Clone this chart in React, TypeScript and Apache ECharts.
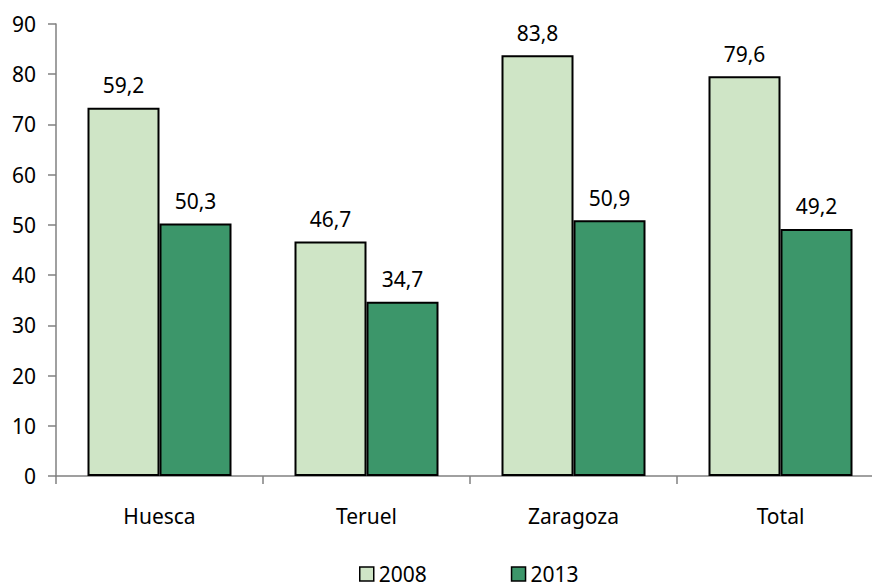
import React, { useEffect, useRef } from "react";
import * as echarts from "echarts";

const categories = ["Huesca", "Teruel", "Zaragoza", "Total"];
const seriesNames = ["2008", "2013"];
const values2008 = [73.3, 46.7, 83.8, 79.6];
const values2013 = [50.3, 34.7, 50.9, 49.2];
const labels2008 = ["59,2", "46,7", "83,8", "79,6"];
const labels2013 = ["50,3", "34,7", "50,9", "49,2"];
const yTicks = [0, 10, 20, 30, 40, 50, 60, 70, 80, 90];

const FONT = "Noto Sans";

export default function App() {
  const ref = useRef<HTMLDivElement>(null);
  useEffect(() => {
    if (!ref.current) return;
    const chart = echarts.init(ref.current, null, { renderer: "svg" });
    const labelCfg = (texts: string[]) => ({
      show: true,
      position: "top",
      distance: 12,
      color: "#000",
      fontSize: 21,
      fontFamily: FONT,
      formatter: (p: any) => texts[p.dataIndex],
    });
    chart.setOption({
      animation: false,
      backgroundColor: "#fff",
      grid: { left: 56, top: 24, width: 828, height: 452, containLabel: false },
      legend: {
        data: seriesNames,
        left: 359,
        top: 563,
        itemWidth: 14,
        itemHeight: 14,
        itemGap: 84,
        itemTextGap: 7,
        padding: 0,
        icon: "rect",
        textStyle: { fontSize: 21, lineHeight: 22, fontFamily: FONT, color: "#000", padding: [0, 0, 0, 0] },
        itemStyle: { borderColor: "#000", borderWidth: 1.5 },
      },
      xAxis: {
        type: "category",
        data: categories,
        axisLine: { show: true, lineStyle: { color: "#808080", width: 1.5 } },
        axisTick: { show: true, length: 8, lineStyle: { color: "#808080", width: 1.5 } },
        axisLabel: { color: "#000", fontSize: 21, fontFamily: FONT, margin: 29 },
        splitLine: { show: false },
      },
      yAxis: {
        type: "value",
        min: yTicks[0],
        max: yTicks[yTicks.length - 1],
        interval: 10,
        axisLine: { show: true, lineStyle: { color: "#808080", width: 1.5 } },
        axisTick: { show: true, length: 8, lineStyle: { color: "#808080", width: 1.5 } },
        axisLabel: { color: "#000", fontSize: 21, fontFamily: FONT, margin: 20 },
        splitLine: { show: false },
      },
      series: [
        {
          name: seriesNames[0],
          type: "bar",
          data: values2008,
          barWidth: 72,
          barGap: "0%",
          itemStyle: { color: "#CFE5C6", borderColor: "#000", borderWidth: 2 },
          label: labelCfg(labels2008),
        },
        {
          name: seriesNames[1],
          type: "bar",
          data: values2013,
          barWidth: 72,
          barGap: "0%",
          itemStyle: { color: "#3C966A", borderColor: "#000", borderWidth: 2 },
          label: labelCfg(labels2013),
        },
      ],
    });
    return () => chart.dispose();
  }, []);
  return (
    <div style={{ position: "absolute", left: 0, top: 0, width: 872, height: 587, overflow: "hidden" }}>
      <div ref={ref} style={{ width: 890, height: 587 }} />
    </div>
  );
}
